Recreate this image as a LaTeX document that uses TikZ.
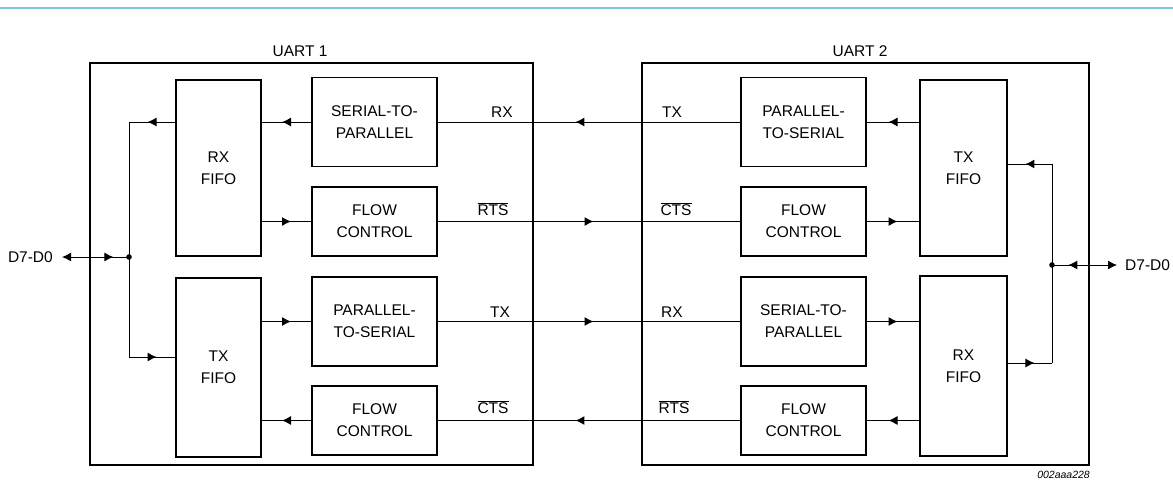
\documentclass[tikz,border=0pt]{standalone}
\usepackage{fontspec}
\setmainfont{Liberation Sans}
\usetikzlibrary{arrows.meta,decorations.markings}
\definecolor{topline}{RGB}{120,200,215}
\begin{document}
\begin{tikzpicture}[x=1pt,y=-1pt,
  every node/.style={font=\fontsize{15.5}{22}\selectfont, inner sep=0pt},
  blk/.style={draw, line width=1.8pt, align=center},
  outerbox/.style={draw, line width=2.2pt},
  wire/.style={line width=1pt},
  midarr/.style={wire, postaction={decorate}, decoration={markings, mark=at position #1 with {\arrow[xshift=4.5pt]{Latex[length=9pt,width=9pt]}}}},
  midarr/.default=0.5,
  sig/.style={anchor=base}]
\useasboundingbox (0,0) rectangle (1173,480);
\draw[topline, line width=2pt] (0,8) -- (1173,8);

% outer boxes
\node[outerbox, minimum width=443, minimum height=402] (uart1) at (311.5,264) {};
\node[outerbox, minimum width=447, minimum height=402] (uart2) at (865.5,264) {};
\node[anchor=base] (u1lbl) at (300,56) {UART 1};
\node[anchor=base] (u2lbl) at (860,56) {UART 2};

% UART 1 blocks
\node[blk, minimum width=85, minimum height=176] (rxf1) at (218.5,168) {RX\\FIFO};
\node[blk, minimum width=85, minimum height=179] (txf1) at (218.5,367.5) {TX\\FIFO};
\node[blk, minimum width=125, minimum height=89] (s2p1) at (374.5,122) {SERIAL-TO-\\PARALLEL};
\node[blk, minimum width=125, minimum height=69] (fc1) at (374.5,221.5) {FLOW\\CONTROL};
\node[blk, minimum width=125, minimum height=89] (p2s1) at (374.5,321.5) {PARALLEL-\\TO-SERIAL};
\node[blk, minimum width=125, minimum height=69] (fc1b) at (374.5,420.5) {FLOW\\CONTROL};

% UART 2 blocks
\node[blk, minimum width=87, minimum height=176] (txf2) at (963.5,168) {TX\\FIFO};
\node[blk, minimum width=87, minimum height=180] (rxf2) at (963.5,366) {RX\\FIFO};
\node[blk, minimum width=125, minimum height=89] (p2s2) at (803.5,122) {PARALLEL-\\TO-SERIAL};
\node[blk, minimum width=125, minimum height=69] (fc2) at (803.5,221.5) {FLOW\\CONTROL};
\node[blk, minimum width=125, minimum height=89] (s2p2) at (803.5,321.5) {SERIAL-TO-\\PARALLEL};
\node[blk, minimum width=125, minimum height=69] (fc2b) at (803.5,420.5) {FLOW\\CONTROL};

% inner connections UART 1
\draw[midarr] (s2p1.west) -- (s2p1.west -| rxf1.east);
\draw[midarr] (fc1.west -| rxf1.east) -- (fc1.west);
\draw[midarr] (p2s1.west -| txf1.east) -- (p2s1.west);
\draw[midarr] (fc1b.west) -- (fc1b.west -| txf1.east);

% inner connections UART 2
\draw[midarr] (txf2.west |- p2s2.west) -- (p2s2.east);
\draw[midarr] (fc2.east) -- (fc2.east -| txf2.west);
\draw[midarr] (s2p2.east) -- (s2p2.east -| rxf2.west);
\draw[midarr] (fc2b.east -| rxf2.west) -- (fc2b.east);

% links between UARTs
\draw[midarr=0.53] (p2s2.west) -- (s2p1.east);
\draw[midarr] (fc1.east) -- (fc2.west);
\draw[midarr] (p2s1.east) -- (s2p2.west);
\draw[midarr=0.53] (fc2b.west) -- (fc1b.east);

% signal labels
\node[sig] (l1) at (502,117) {RX};
\node[sig] (l2) at (493,215) {\(\overline{\mbox{RTS}}\)};
\node[sig] (l3) at (500,317) {TX};
\node[sig] (l4) at (493,413) {\(\overline{\mbox{CTS}}\)};
\node[sig] (l5) at (672,117) {TX};
\node[sig] (l6) at (676,215) {\(\overline{\mbox{CTS}}\)};
\node[sig] (l7) at (672,317) {RX};
\node[sig] (l8) at (674,413) {\(\overline{\mbox{RTS}}\)};

% left data bus
\coordinate (lt) at (129,122);
\coordinate (lb) at (129,357);
\coordinate (jL) at (129,257);
\draw[midarr] (rxf1.west |- lt) -- (lt);
\draw[wire] (lt) -- (lb);
\draw[midarr] (lb) -- (txf1.west |- lb);
\fill (jL) circle (2.8);
\node[anchor=east] (dl) at (53,257) {D7-D0};
\draw[midarr=0.7, {Latex[length=9pt,width=9pt]}-] ([xshift=9]dl.east) -- (jL);

% right data bus
\coordinate (rt) at (1052,164);
\coordinate (rb) at (1052,363);
\coordinate (jR) at (1052,265);
\draw[midarr] (rt) -- (txf2.east |- rt);
\draw[wire] (rt) -- (rb);
\draw[midarr] (rxf2.east |- rb) -- (rb);
\fill (jR) circle (2.8);
\node[anchor=west] (dr) at (1125,265) {D7-D0};
\draw[midarr=0.68, {Latex[length=9pt,width=9pt]}-] ([xshift=-8]dr.west) -- (jR);

\node[anchor=north east, font=\fontsize{10.5}{12}\selectfont\itshape] (ref) at (1090,471) {002aaa228};
\end{tikzpicture}
\end{document}
